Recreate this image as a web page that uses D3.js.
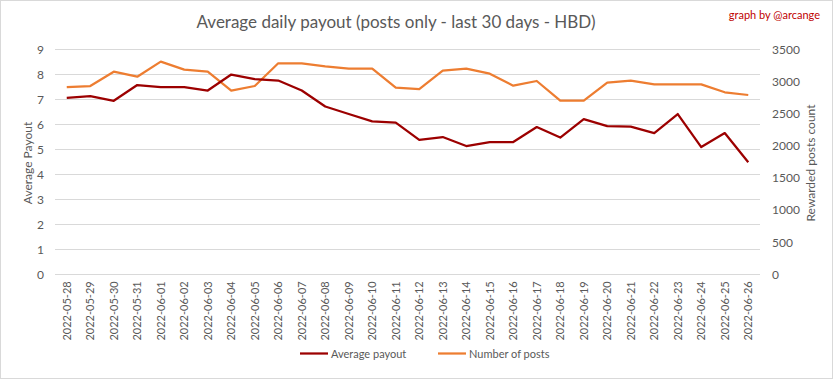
<!DOCTYPE html>
<html><head><meta charset="utf-8">
<script src="https://cdn.jsdelivr.net/npm/d3@7"></script>
<style>body{margin:0;background:#fff}svg{display:block}text{font-family:Lato,"Open Sans",sans-serif}</style>
</head><body>
<script>
const dates = ["2022-05-28","2022-05-29","2022-05-30","2022-05-31","2022-06-01","2022-06-02","2022-06-03","2022-06-04","2022-06-05","2022-06-06","2022-06-07","2022-06-08","2022-06-09","2022-06-10","2022-06-11","2022-06-12","2022-06-13","2022-06-14","2022-06-15","2022-06-16","2022-06-17","2022-06-18","2022-06-19","2022-06-20","2022-06-21","2022-06-22","2022-06-23","2022-06-24","2022-06-25","2022-06-26"];
const avgPayout = [7.06,7.13,6.94,7.57,7.49,7.49,7.35,7.99,7.81,7.75,7.35,6.71,6.41,6.12,6.07,5.38,5.49,5.13,5.29,5.29,5.89,5.47,6.21,5.93,5.91,5.65,6.41,5.09,5.65,4.48];
const numPosts = [2913,2929,3152,3074,3308,3183,3152,2856,2929,3282,3282,3235,3199,3199,2903,2882,3168,3199,3121,2934,3007,2700,2700,2981,3012,2955,2955,2955,2831,2789];
const leftTicks = [0,1,2,3,4,5,6,7,8,9];
const rightTicks = [0,500,1000,1500,2000,2500,3000,3500];

const W=833,H=379;
const svg=d3.select("body").append("svg").attr("width",W).attr("height",H);
svg.append("rect").attr("x",0.5).attr("y",0.5).attr("width",W-1).attr("height",H-1).attr("fill","#fff").attr("stroke","#d9d9d9");

const x=d3.scaleBand().domain(dates).range([55,760]);
const yL=d3.scaleLinear().domain([0,9]).range([274.3,49.3]);
const yR=d3.scaleLinear().domain([0,3500]).range([274.3,49.3]);

// gridlines
svg.append("g").selectAll("line").data(leftTicks).join("line")
 .attr("x1",55).attr("x2",760).attr("y1",d=>Math.round(yL(d))+0.5).attr("y2",d=>Math.round(yL(d))+0.5)
 .attr("stroke","#d9d9d9").attr("stroke-width",1);

// left axis
const gl=svg.append("g").attr("transform","translate(55,0)")
 .call(d3.axisLeft(yL).tickValues(leftTicks).tickSize(0).tickPadding(11));
gl.select(".domain").remove();
gl.selectAll("text").attr("fill","#595959").style("font-size","12px").style("font-family","Lato,sans-serif");

// right axis
const gr=svg.append("g").attr("transform","translate(760,0)")
 .call(d3.axisRight(yR).tickValues(rightTicks).tickFormat(d3.format("d")).tickSize(0).tickPadding(12));
gr.select(".domain").remove();
gr.selectAll("text").attr("fill","#595959").style("font-size","12px").style("font-family","Lato,sans-serif");

// x axis
const gx=svg.append("g").attr("transform","translate(0,274.3)")
 .call(d3.axisBottom(x).tickSize(0).tickPadding(0));
gx.select(".domain").remove();
gx.selectAll("text").attr("fill","#595959").style("font-size","11px").style("font-family","Lato,sans-serif")
 .attr("transform","rotate(-90)").attr("text-anchor","end").attr("dx","-7px").attr("dy","0.35em").attr("y",0).attr("x",0);

const cx=d=>x(d)+x.bandwidth()/2;
svg.append("path").datum(numPosts).attr("fill","none").attr("stroke","#ed7d31").attr("stroke-width",2.25).attr("stroke-linejoin","round")
 .attr("d",d3.line().x((d,i)=>cx(dates[i])).y(d=>yR(d)));
svg.append("path").datum(avgPayout).attr("fill","none").attr("stroke","#9c0000").attr("stroke-width",2.25).attr("stroke-linejoin","round")
 .attr("d",d3.line().x((d,i)=>cx(dates[i])).y(d=>yL(d)));

// titles
svg.append("text").attr("x",396).attr("y",28).attr("text-anchor","middle").attr("fill","#595959").style("font-size","17px").text("Average daily payout (posts only - last 30 days - HBD)");
svg.append("text").attr("x",820).attr("y",19).attr("text-anchor","end").attr("fill","#c00000").style("font-size","11px").text("graph by @arcange");
svg.append("text").attr("transform","translate(32,163) rotate(-90)").attr("text-anchor","middle").attr("fill","#595959").style("font-size","12px").text("Average Payout");
svg.append("text").attr("transform","translate(815,163) rotate(-90)").attr("text-anchor","middle").attr("fill","#595959").style("font-size","12px").text("Rewarded posts count");

// legend
const leg=[{n:"Average payout",c:"#9c0000",x:300},{n:"Number of posts",c:"#ed7d31",x:438}];
const lg=svg.append("g");
leg.forEach(l=>{
 lg.append("line").attr("x1",l.x).attr("x2",l.x+28).attr("y1",353.5).attr("y2",353.5).attr("stroke",l.c).attr("stroke-width",2.25);
 lg.append("text").attr("x",l.x+31).attr("y",357.5).attr("fill","#595959").style("font-size","11px").text(l.n);
});
</script>
</body></html>
